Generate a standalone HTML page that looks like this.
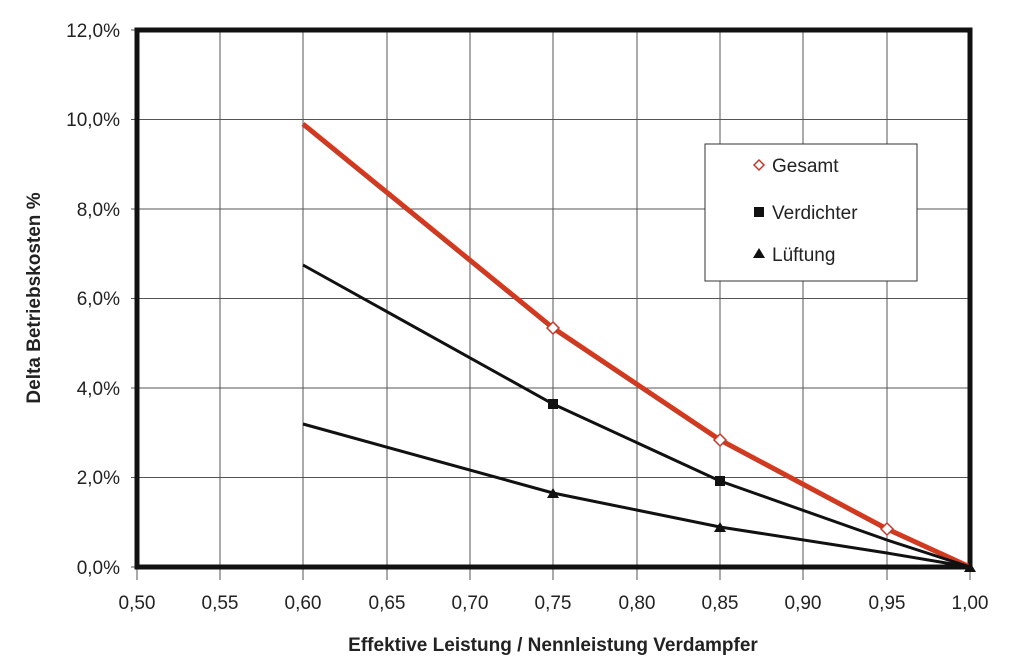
<!DOCTYPE html><html><head><style>body{margin:0;background:#fff}</style></head><body>
<svg width="1024" height="664" xmlns="http://www.w3.org/2000/svg" font-family="Liberation Sans, sans-serif">
<rect width="1024" height="664" fill="#fff"/>
<g stroke="#555" stroke-width="1">
<line x1="220" y1="30" x2="220" y2="567"/><line x1="303" y1="30" x2="303" y2="567"/><line x1="387" y1="30" x2="387" y2="567"/><line x1="470" y1="30" x2="470" y2="567"/><line x1="553" y1="30" x2="553" y2="567"/><line x1="637" y1="30" x2="637" y2="567"/><line x1="720" y1="30" x2="720" y2="567"/><line x1="803" y1="30" x2="803" y2="567"/><line x1="887" y1="30" x2="887" y2="567"/>
<line x1="137" y1="119.5" x2="970" y2="119.5"/><line x1="137" y1="209" x2="970" y2="209"/><line x1="137" y1="298.5" x2="970" y2="298.5"/><line x1="137" y1="388" x2="970" y2="388"/><line x1="137" y1="477.5" x2="970" y2="477.5"/>
<line x1="220" y1="567" x2="220" y2="580"/><line x1="303" y1="567" x2="303" y2="580"/><line x1="387" y1="567" x2="387" y2="580"/><line x1="470" y1="567" x2="470" y2="580"/><line x1="553" y1="567" x2="553" y2="580"/><line x1="637" y1="567" x2="637" y2="580"/><line x1="720" y1="567" x2="720" y2="580"/><line x1="803" y1="567" x2="803" y2="580"/><line x1="887" y1="567" x2="887" y2="580"/><line x1="137" y1="567" x2="137" y2="580"/><line x1="970" y1="567" x2="970" y2="580"/>
<line x1="131" y1="30" x2="137" y2="30"/><line x1="131" y1="119.5" x2="137" y2="119.5"/><line x1="131" y1="209" x2="137" y2="209"/><line x1="131" y1="298.5" x2="137" y2="298.5"/><line x1="131" y1="388" x2="137" y2="388"/><line x1="131" y1="477.5" x2="137" y2="477.5"/><line x1="131" y1="567" x2="137" y2="567"/>
</g>
<rect x="137" y="30" width="833" height="537" fill="none" stroke="#111" stroke-width="5"/>
<polyline points="303,124 553,328 720,440 887,529 970,567" fill="none" stroke="#d03a20" stroke-width="5"/>
<polyline points="303,265 553,404 720,481 887,540 970,567" fill="none" stroke="#111" stroke-width="3"/>
<polyline points="303,424 553,493 720,527 887,553 970,567" fill="none" stroke="#111" stroke-width="3"/>
<g fill="#fff" stroke="#c0392b" stroke-width="1.5"><path d="M553,322l6,6l-6,6l-6,-6z"/><path d="M720,434l6,6l-6,6l-6,-6z"/><path d="M887,523l6,6l-6,6l-6,-6z"/></g>
<rect x="548" y="399" width="10" height="10" fill="#111"/><rect x="715" y="476" width="10" height="10" fill="#111"/>
<path d="M553,488l6,10h-12z M720,522l6,10h-12z M970,562l6,10h-12z" fill="#111"/>
<rect x="705" y="144" width="212" height="137" fill="#fff" stroke="#333" stroke-width="1"/>
<path d="M759,160l5,5l-5,5l-5,-5z" fill="#fff" stroke="#c0392b" stroke-width="1.5"/>
<rect x="754" y="207" width="10" height="10" fill="#111"/>
<path d="M759,248l6,10h-12z" fill="#111"/>
<g font-size="19" fill="#222"><text x="772" y="172">Gesamt</text><text x="772" y="219">Verdichter</text><text x="772" y="261">Lüftung</text></g>
<g font-size="19" fill="#222" text-anchor="end"><text x="120" y="37">12,0%</text><text x="120" y="126">10,0%</text><text x="120" y="216">8,0%</text><text x="120" y="305">6,0%</text><text x="120" y="395">4,0%</text><text x="120" y="484">2,0%</text><text x="120" y="574">0,0%</text></g>
<g font-size="19" fill="#222" text-anchor="middle"><text x="137" y="609">0,50</text><text x="220" y="609">0,55</text><text x="303" y="609">0,60</text><text x="387" y="609">0,65</text><text x="470" y="609">0,70</text><text x="553" y="609">0,75</text><text x="637" y="609">0,80</text><text x="720" y="609">0,85</text><text x="803" y="609">0,90</text><text x="887" y="609">0,95</text><text x="970" y="609">1,00</text></g>
<text x="553" y="651" font-size="19" font-weight="bold" text-anchor="middle" fill="#222">Effektive Leistung / Nennleistung Verdampfer</text>
<text transform="translate(40,298) rotate(-90)" font-size="19" font-weight="bold" text-anchor="middle" fill="#222">Delta Betriebskosten %</text>
</svg></body></html>
